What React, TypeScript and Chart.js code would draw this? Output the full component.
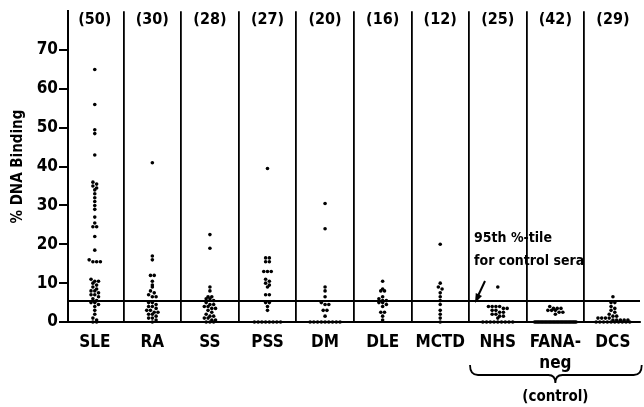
import React, { useEffect, useRef } from "react";
import { Chart, registerables } from "chart.js";
Chart.register(...registerables);

const categories = ["SLE", "RA", "SS", "PSS", "DM", "DLE", "MCTD", "NHS", "FANA-neg", "DCS"];
const tickLabels: (string | string[])[] = ["SLE", "RA", "SS", "PSS", "DM", "DLE", "MCTD", "NHS", ["FANA-", "neg"], "DCS"];
const groupCounts = [50, 30, 28, 27, 20, 16, 12, 25, 42, 29];
const yTicks = [0, 10, 20, 30, 40, 50, 60, 70];
const threshold95 = 5.4;
const yTitle = "% DNA Binding";
const noteLines = ["95th %-tile", "for control sera"];
const braceLabel = "(control)";

const sle = [65, 56, 49.5, 48.5, 43, 36, 35.5, 35, 34.5, 34, 33, 32, 31, 30, 29, 27, 25.5, 24.5, 24.5, 22, 18.5, 16, 15.5, 15.5, 15.5,
  11, 10.5, 10.5, 10, 9.5, 9, 8.5, 8, 8, 7.5, 7, 7, 6.5, 6, 5.5, 5, 5, 4.5, 4, 3, 2, 1, 0.5, 0, 0];
const ra = [41, 17, 16, 12, 12, 10.5, 9.5, 9, 8, 7.5, 7, 6.5, 6.5, 5, 5, 4.5, 4, 4, 3.5, 3, 3, 2.5, 2.5, 2, 2, 1.5, 1, 1, 0.5, 0];
const ss = [22.5, 19, 9, 8, 6.5, 6.5, 6, 6, 5.5, 5, 4.5, 4.5, 4, 4, 3.5, 3.5, 3, 2.5, 2, 1.5, 1.5, 1, 1, 0.5, 0.5, 0, 0, 0];
const pss = [39.5, 16.5, 16.5, 15.5, 15.5, 13, 13, 13, 11, 10.5, 10, 9.5, 9, 7, 7, 5, 5, 4, 3, 0, 0, 0, 0, 0, 0, 0, 0];
const dm = [30.5, 24, 9, 8, 6.5, 5, 4.5, 4.5, 3, 3, 1.5, 0, 0, 0, 0, 0, 0, 0, 0, 0];
const dle = [10.5, 8.5, 8, 8, 6.5, 6, 5.5, 5.5, 5, 5, 4.5, 4, 2.5, 2.5, 1.5, 0.5];
const mctd = [20, 10, 9, 8.5, 7.5, 6.5, 5.5, 4.5, 3, 2, 1, 0];
const nhs = [9, 4, 4, 4, 4, 3.5, 3.5, 3, 3, 2.5, 2.5, 2, 2, 1.5, 1.5, 1, 0, 0, 0, 0, 0, 0, 0, 0, 0];
const fanaNeg = [4, 3.5, 3.5, 3.5, 3, 3, 3, 2.5, 2.5, 2, 0, 0, 0, 0, 0, 0, 0, 0, 0, 0, 0, 0, 0, 0, 0, 0, 0, 0, 0, 0, 0, 0, 0, 0, 0, 0, 0, 0, 0, 0, 0, 0];
const dcs = [6.5, 5, 5, 4, 3.5, 3, 2.5, 2, 1.5, 1.5, 1, 1, 1, 1, 0.5, 0.5, 0.5, 0.5, 0.5, 0, 0, 0, 0, 0, 0, 0, 0, 0, 0];

const groups = [sle, ra, ss, pss, dm, dle, mctd, nhs, fanaNeg, dcs];

const X_MIN = -0.465;
const X_MAX = 9.47;
const FONT = '"Liberation Sans Narrow", "DejaVu Sans Condensed", "Open Sans", sans-serif';

// dot-plot layout: points with similar values are spread side by side
function spreadOffsets(values: number[]): number[] {
  const bins = new Map<number, number[]>();
  values.forEach((v, i) => {
    const b = Math.round(v);
    if (!bins.has(b)) bins.set(b, []);
    bins.get(b)!.push(i);
  });
  const offs = new Array(values.length).fill(0);
  bins.forEach((idx) => {
    const m = idx.length;
    if (m < 2) return;
    const w = Math.min(0.72, (m - 1) * 0.065);
    idx.forEach((i, k) => {
      offs[i] = (k / (m - 1) - 0.5) * w;
    });
  });
  return offs;
}

const points: { x: number; y: number }[] = [];
groups.forEach((vals, gi) => {
  const offs = spreadOffsets(vals);
  vals.forEach((v, i) => points.push({ x: gi + offs[i], y: v }));
});

const annotationPlugin = {
  id: "annot",
  afterDraw(chart: any) {
    const { ctx, scales } = chart;
    const xs = scales.x;
    const ys = scales.y;
    ctx.save();
    ctx.fillStyle = "#000";
    ctx.strokeStyle = "#000";
    // counts
    ctx.font = `bold 16px ${FONT}`;
    ctx.textAlign = "center";
    ctx.textBaseline = "middle";
    groupCounts.forEach((n, i) => {
      ctx.fillText(`(${n})`, xs.getPixelForValue(i), 20);
    });
    // note
    const noteX = xs.getPixelForValue(6.5) + 5;
    ctx.font = `bold 14px ${FONT}`;
    ctx.textAlign = "left";
    ctx.fillText(noteLines[0], noteX, 238);
    ctx.fillText(noteLines[1], noteX, 261);
    // arrow
    const lineY = ys.getPixelForValue(threshold95);
    const tipX = noteX + 1;
    const tipY = lineY + 2;
    const tailX = noteX + 11;
    const tailY = lineY - 20;
    ctx.lineWidth = 2;
    ctx.beginPath();
    ctx.moveTo(tailX, tailY);
    ctx.lineTo(tipX + 2, tipY - 5);
    ctx.stroke();
    const ang = Math.atan2(tipY - tailY, tipX - tailX);
    ctx.beginPath();
    ctx.moveTo(tipX, tipY);
    ctx.lineTo(tipX - 10 * Math.cos(ang - 0.35), tipY - 10 * Math.sin(ang - 0.35));
    ctx.lineTo(tipX - 10 * Math.cos(ang + 0.35), tipY - 10 * Math.sin(ang + 0.35));
    ctx.closePath();
    ctx.fill();
    // brace
    const bx0 = xs.getPixelForValue(6.5) + 1;
    const bx1 = Math.min(xs.getPixelForValue(9.5), chart.width - 2);
    const bm = xs.getPixelForValue(8);
    const top = 365;
    const mid = 375;
    const tip = 383;
    ctx.lineWidth = 1.8;
    ctx.beginPath();
    ctx.moveTo(bx0, top);
    ctx.quadraticCurveTo(bx0, mid, bx0 + 8, mid);
    ctx.lineTo(bm - 7, mid);
    ctx.quadraticCurveTo(bm, mid, bm, tip);
    ctx.quadraticCurveTo(bm, mid, bm + 7, mid);
    ctx.lineTo(bx1 - 8, mid);
    ctx.quadraticCurveTo(bx1, mid, bx1, top);
    ctx.stroke();
    ctx.font = `bold 15px ${FONT}`;
    ctx.textAlign = "center";
    ctx.fillText(braceLabel, bm, 397);
    ctx.restore();
  },
};

export default function App() {
  const ref = useRef<HTMLCanvasElement | null>(null);
  useEffect(() => {
    if (!ref.current) return;
    const chart = new Chart(ref.current, {
      type: "scatter",
      data: {
        datasets: [
          {
            label: "threshold",
            data: [
              { x: X_MIN, y: threshold95 },
              { x: X_MAX, y: threshold95 },
            ],
            showLine: true,
            borderColor: "#000",
            borderWidth: 2,
            pointRadius: 0,
            clip: false as any,
          },
          {
            label: "binding",
            data: points,
            backgroundColor: "#000",
            borderColor: "#000",
            borderWidth: 0,
            pointRadius: 1.8,
            clip: false as any,
          },
        ],
      },
      options: {
        responsive: false,
        animation: false,
        layout: { padding: { top: 5, right: 0, bottom: 0, left: 0 } },
        plugins: { legend: { display: false }, tooltip: { enabled: false } },
        scales: {
          x: {
            type: "linear",
            min: X_MIN,
            max: X_MAX,
            afterBuildTicks: (s: any) => {
              s.ticks = categories.map((_, i) => ({ value: i }));
            },
            afterFit: (s: any) => {
              s.height = 85;
            },
            grid: {
              offset: true,
              drawTicks: false,
              color: "#000",
              lineWidth: 1.8,
            },
            border: { display: true, color: "#000", width: 2 },
            ticks: {
              autoSkip: false,
              maxRotation: 0,
              padding: 10,
              color: "#000",
              font: { family: FONT, size: 17, weight: "bold", lineHeight: 1.25 },
              callback: (v: any) => tickLabels[Math.round(Number(v))] ?? "",
            },
          },
          y: {
            type: "linear",
            min: 0,
            max: 80,
            afterBuildTicks: (s: any) => {
              s.ticks = yTicks.map((v) => ({ value: v }));
            },
            afterFit: (s: any) => {
              s.width = 68;
            },
            grid: {
              drawOnChartArea: false,
              drawTicks: true,
              tickLength: 9,
              color: "#000",
              lineWidth: 2,
            },
            border: { display: true, color: "#000", width: 2 },
            ticks: {
              padding: 1,
              color: "#000",
              font: { family: FONT, size: 17, weight: "bold" },
            },
            title: {
              display: true,
              text: yTitle,
              color: "#000",
              padding: { top: 9, bottom: 0 },
              font: { family: FONT, size: 15, weight: "bold" },
            },
          },
        },
      } as any,
      plugins: [annotationPlugin],
    });
    return () => chart.destroy();
  }, []);
  return (
    <div style={{ position: "fixed", left: 0, top: 0, width: 644, height: 407, background: "#fff" }}>
      <canvas ref={ref} width={644} height={407} style={{ width: 644, height: 407, display: "block" }} />
    </div>
  );
}
